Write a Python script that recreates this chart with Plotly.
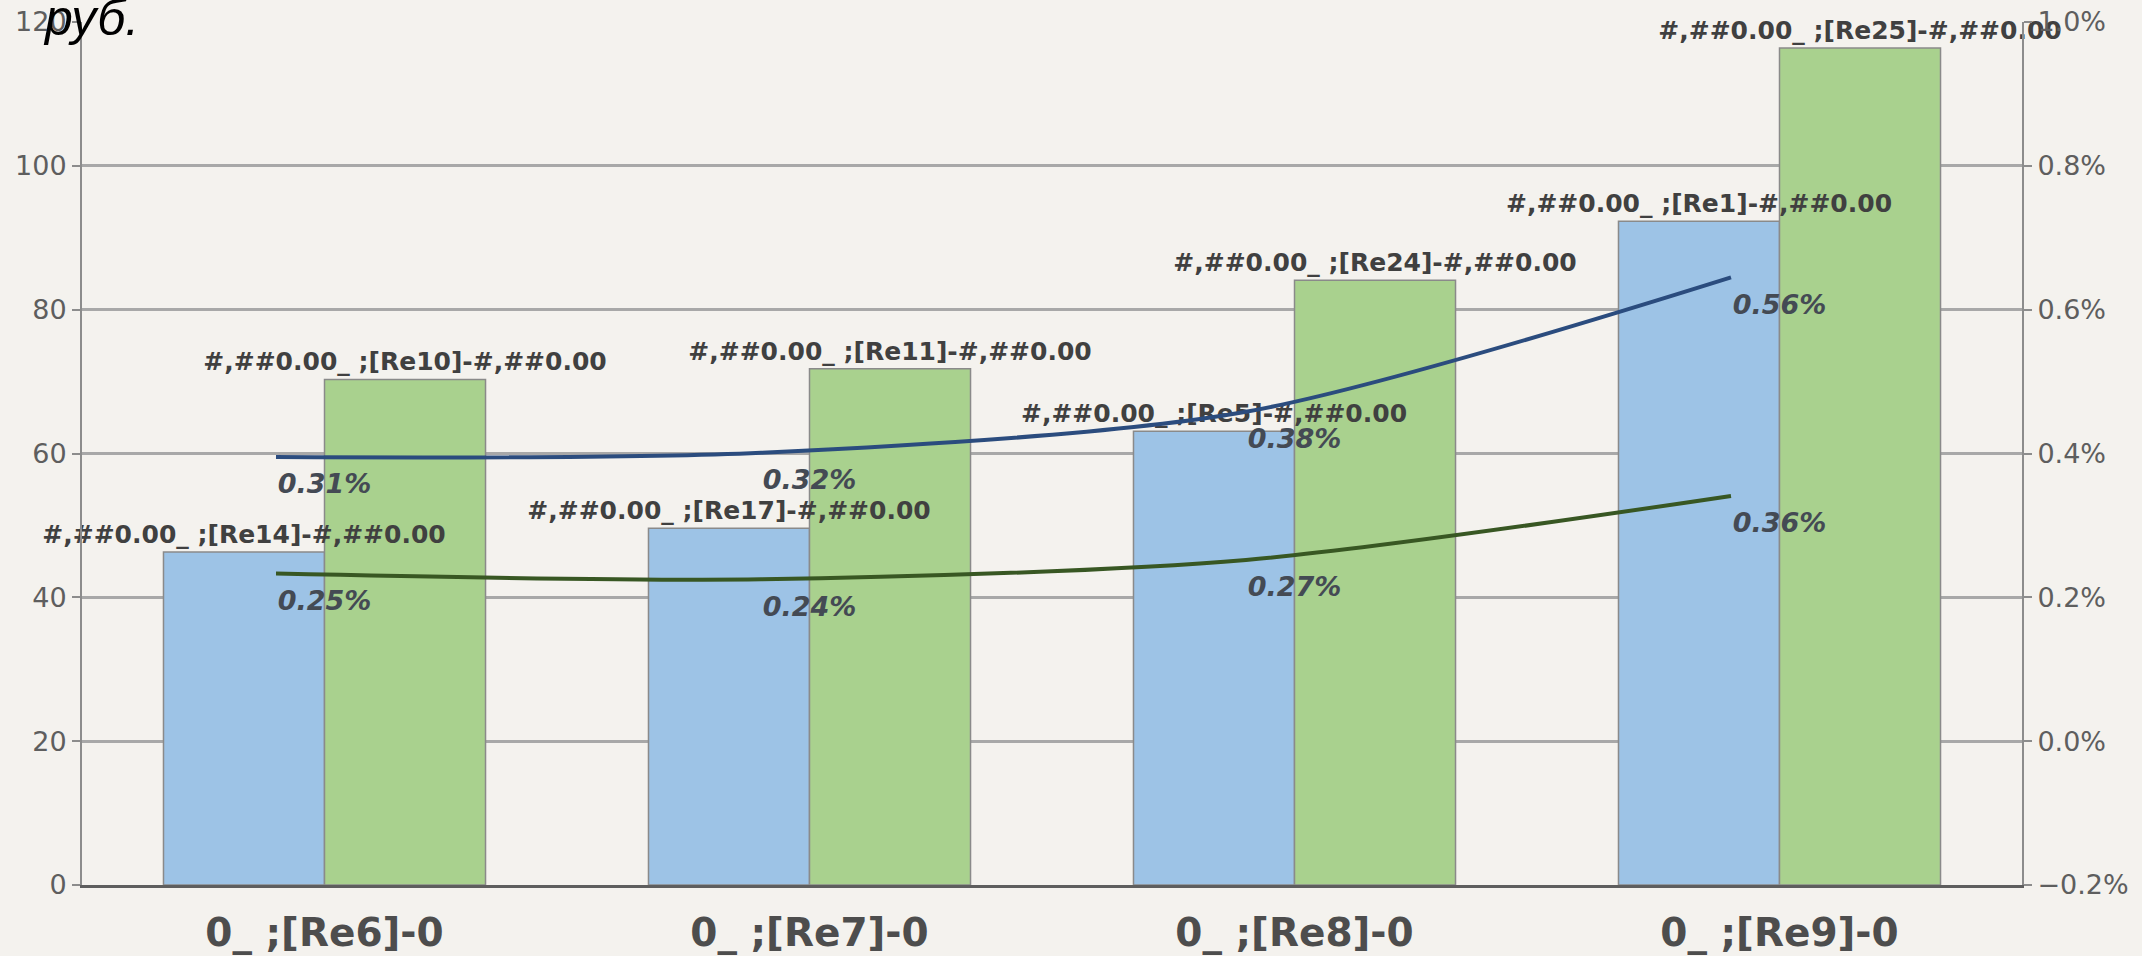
import plotly.graph_objects as go

# ---- data ----
categories = ["0_ ;[Re6]-0", "0_ ;[Re7]-0", "0_ ;[Re8]-0", "0_ ;[Re9]-0"]
blue_values = [46.3, 49.6, 63.1, 92.3]
green_values = [70.3, 71.8, 84.1, 116.4]
blue_labels = ["#,##0.00_ ;[Re14]-#,##0.00", "#,##0.00_ ;[Re17]-#,##0.00",
               "#,##0.00_ ;[Re5]-#,##0.00", "#,##0.00_ ;[Re1]-#,##0.00"]
green_labels = ["#,##0.00_ ;[Re10]-#,##0.00", "#,##0.00_ ;[Re11]-#,##0.00",
                "#,##0.00_ ;[Re24]-#,##0.00", "#,##0.00_ ;[Re25]-#,##0.00"]
line1_values = [0.00395, 0.00401, 0.00458, 0.00645]
line2_values = [0.00233, 0.00225, 0.00252, 0.00341]
line1_labels = ["0.31%", "0.32%", "0.38%", "0.56%"]
line2_labels = ["0.25%", "0.24%", "0.27%", "0.36%"]
title_text = "руб."

# ---- styling ----
BG = "#f4f2ee"
FONT = "DejaVu Sans"
LINE_SHIFT = -0.1
xpos = list(range(len(categories)))
xline = [p + LINE_SHIFT for p in xpos]
bar_label_font = dict(family=FONT, size=25, color="#404040", weight="bold")
line_label_font = dict(family=FONT, size=27, color="#444a54", style="italic", weight="bold")

fig = go.Figure()
# real bars
fig.add_trace(go.Bar(
    x=xpos, y=blue_values, offsetgroup="a",
    marker=dict(color="#9dc3e6", line=dict(color="#8a8a8a", width=1.5)),
    showlegend=False, hoverinfo="skip"))
fig.add_trace(go.Bar(
    x=xpos, y=green_values, offsetgroup="b",
    marker=dict(color="#a9d18e", line=dict(color="#8a8a8a", width=1.5)),
    showlegend=False, hoverinfo="skip"))
# transparent overlay bars carrying the data labels (drawn above all bars)
fig.add_trace(go.Bar(
    x=xpos, y=blue_values, offsetgroup="a", text=blue_labels, textposition="outside",
    marker=dict(color="rgba(0,0,0,0)", line=dict(width=0)),
    textfont=bar_label_font, cliponaxis=False, constraintext="none",
    showlegend=False, hoverinfo="skip"))
fig.add_trace(go.Bar(
    x=xpos, y=green_values, offsetgroup="b", text=green_labels, textposition="outside",
    marker=dict(color="rgba(0,0,0,0)", line=dict(width=0)),
    textfont=bar_label_font, cliponaxis=False, constraintext="none",
    showlegend=False, hoverinfo="skip"))
# lines
fig.add_trace(go.Scatter(
    x=xline, y=line1_values, yaxis="y2", mode="lines",
    line=dict(color="#2b4c7e", width=4, shape="spline", smoothing=0.8),
    showlegend=False, hoverinfo="skip"))
fig.add_trace(go.Scatter(
    x=xline, y=line2_values, yaxis="y2", mode="lines",
    line=dict(color="#385723", width=4, shape="spline", smoothing=0.8),
    showlegend=False, hoverinfo="skip"))
# line data labels (transparent markers push the text below the point)
for vals, labs in ((line1_values, line1_labels), (line2_values, line2_labels)):
    fig.add_trace(go.Scatter(
        x=xpos, y=vals, yaxis="y2", mode="markers+text", text=labs,
        marker=dict(size=24, color="rgba(0,0,0,0)"),
        textposition="bottom center", textfont=line_label_font,
        cliponaxis=False, showlegend=False, hoverinfo="skip"))

tick_font = dict(family=FONT, size=27, color="#5e5e5e")
fig.update_layout(
    width=2142, height=956,
    margin=dict(l=82, r=120, t=22, b=71, autoexpand=False),
    paper_bgcolor=BG, plot_bgcolor=BG,
    barmode="group", bargap=0.336, bargroupgap=0,
    xaxis=dict(range=[-0.5, len(categories) - 0.5], tickvals=xpos, ticktext=categories,
               showgrid=False, zeroline=False, showline=True, linecolor="#5e5e5e",
               linewidth=2.5, ticks="", automargin=False, ticklabelstandoff=11,
               tickfont=dict(family=FONT, size=39, color="#4d4d4d", weight="bold")),
    yaxis=dict(range=[0, 120], dtick=20, showgrid=True, gridcolor="#a8a8a8", gridwidth=3,
               zeroline=False, showline=True, linecolor="#8c8c8c", linewidth=2,
               ticks="outside", ticklen=8, tickcolor="#8c8c8c", tickwidth=2,
               automargin=False, tickfont=tick_font),
    yaxis2=dict(range=[-0.002, 0.010], dtick=0.002, tickformat=".1%", overlaying="y",
                side="right", showgrid=False, zeroline=False, showline=True,
                linecolor="#8c8c8c", linewidth=2, ticks="outside", ticklen=8,
                tickcolor="#8c8c8c", tickwidth=2, automargin=False, tickfont=tick_font),
    annotations=[dict(text=title_text, xref="paper", yref="paper", x=-0.021, y=1.0,
                      xanchor="left", yanchor="middle", yshift=4, showarrow=False,
                      font=dict(family="Liberation Sans", size=50, color="#000000",
                                style="italic"))],
)

fig.write_html("out.html", config={"displayModeBar": False},
               post_script="document.body.style.margin='0';document.body.style.overflow='hidden';")
